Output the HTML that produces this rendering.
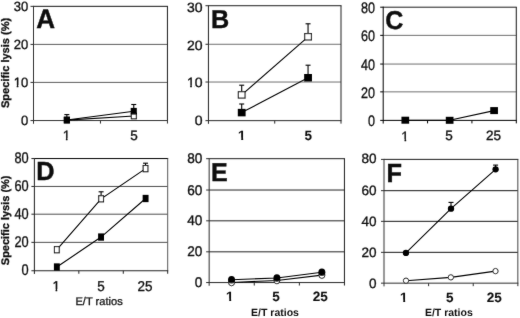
<!DOCTYPE html>
<html><head><meta charset="utf-8"><title>Specific lysis vs E/T ratios</title><style>
html,body{margin:0;padding:0;background:#fff;}
body{width:520px;height:318px;overflow:hidden;}
svg{display:block;font-family:"Liberation Sans", sans-serif;fill:#111;text-rendering:geometricPrecision;}
</style></head><body>
<svg width="520" height="318" viewBox="0 0 520 318" xmlns="http://www.w3.org/2000/svg">
<defs><clipPath id="k0" clipPathUnits="userSpaceOnUse"><rect x="-17.469" y="-39.000" width="32.000" height="37.029"/><rect x="-11.400" y="-39.000" width="1.549" height="52.000"/><rect x="-7.239" y="-39.000" width="19.000" height="52.000"/></clipPath><clipPath id="k1" clipPathUnits="userSpaceOnUse"><rect x="-6.758" y="-40.500" width="33.000" height="38.491"/><rect x="-0.563" y="-40.500" width="1.593" height="54.000"/></clipPath><clipPath id="k2" clipPathUnits="userSpaceOnUse"><rect x="-18.578" y="-42.000" width="34.000" height="39.954"/><rect x="-12.258" y="-42.000" width="1.637" height="56.000"/><rect x="-7.792" y="-42.000" width="20.000" height="56.000"/></clipPath><clipPath id="k3" clipPathUnits="userSpaceOnUse"><rect x="-6.758" y="-40.500" width="33.000" height="38.122"/><rect x="-0.657" y="-40.500" width="1.952" height="54.000"/></clipPath><clipPath id="k4" clipPathUnits="userSpaceOnUse"><rect x="-6.758" y="-40.500" width="33.000" height="38.491"/><rect x="-0.563" y="-40.500" width="1.593" height="54.000"/></clipPath><clipPath id="k5" clipPathUnits="userSpaceOnUse"><rect x="-6.758" y="-40.500" width="33.000" height="38.491"/><rect x="-0.563" y="-40.500" width="1.593" height="54.000"/></clipPath><clipPath id="k6" clipPathUnits="userSpaceOnUse"><rect x="-6.758" y="-40.500" width="33.000" height="38.122"/><rect x="-0.657" y="-40.500" width="1.952" height="54.000"/></clipPath><clipPath id="k7" clipPathUnits="userSpaceOnUse"><rect x="-6.758" y="-40.500" width="33.000" height="38.122"/><rect x="-0.657" y="-40.500" width="1.952" height="54.000"/></clipPath><filter id="bl" x="0" y="0" width="520" height="318" filterUnits="userSpaceOnUse"><feConvolveMatrix order="3" kernelMatrix="0.0125 0.05 0.0125 0.05 0.75 0.05 0.0125 0.05 0.0125" edgeMode="none"/></filter></defs>
<rect width="520" height="318" fill="#fff"/>
<g filter="url(#bl)">
<line x1="33.50" y1="44.40" x2="167.45" y2="44.40" stroke="#5f5f5f" stroke-width="1.0"/>
<line x1="33.50" y1="82.40" x2="167.45" y2="82.40" stroke="#5f5f5f" stroke-width="1.0"/>
<line x1="33.50" y1="6.35" x2="167.95" y2="6.35" stroke="#161616" stroke-width="1.0"/>
<line x1="167.45" y1="6.35" x2="167.45" y2="120.55" stroke="#1c1c1c" stroke-width="1.0"/>
<line x1="33.50" y1="5.85" x2="33.50" y2="123.75" stroke="#303030" stroke-width="1.0"/>
<line x1="30.50" y1="120.55" x2="167.95" y2="120.55" stroke="#303030" stroke-width="1.0"/>
<line x1="30.50" y1="6.35" x2="33.50" y2="6.35" stroke="#303030" stroke-width="1.0"/>
<line x1="30.50" y1="44.40" x2="33.50" y2="44.40" stroke="#303030" stroke-width="1.0"/>
<line x1="30.50" y1="82.40" x2="33.50" y2="82.40" stroke="#303030" stroke-width="1.0"/>
<line x1="100.47" y1="120.55" x2="100.47" y2="123.55" stroke="#303030" stroke-width="1.0"/>
<line x1="167.45" y1="120.55" x2="167.45" y2="123.55" stroke="#303030" stroke-width="1.0"/>
<text transform="translate(28.17,125.00) scale(1,1.03)" text-anchor="end" font-size="13.0" stroke="#111" stroke-width="0.34">0</text>
<text transform="translate(28.17,87.00) scale(1,1.03)" text-anchor="end" font-size="13.0" clip-path="url(#k0)" id="tk0" stroke="#111" stroke-width="0.34">10</text>
<text transform="translate(28.17,49.00) scale(1,1.03)" text-anchor="end" font-size="13.0" stroke="#111" stroke-width="0.34">20</text>
<text transform="translate(28.17,11.00) scale(1,1.03)" text-anchor="end" font-size="13.0" stroke="#111" stroke-width="0.34">30</text>
<text transform="translate(66.47,140.00)" text-anchor="middle" font-size="13.5" clip-path="url(#k1)" id="tk1" stroke="#111" stroke-width="0.35">1</text>
<text x="134.07" y="140.00" text-anchor="middle" font-size="13.5" stroke="#111" stroke-width="0.35">5</text>
<text transform="translate(36.19,28.00) scale(1,1.03)" text-anchor="start" font-size="26.0" font-weight="bold" stroke="#111" stroke-width="0.45">A</text>
<polyline points="66.85,120.10 133.85,116.00" fill="none" stroke="#000" stroke-width="1.1"/>
<rect x="64.35" y="117.30" width="5.00" height="5.60" fill="#fff" stroke="#111" stroke-width="1.1"/>
<rect x="131.35" y="113.20" width="5.00" height="5.60" fill="#fff" stroke="#111" stroke-width="1.1"/>
<polyline points="66.85,120.00 133.75,111.25" fill="none" stroke="#000" stroke-width="1.1"/>
<line x1="66.85" y1="120.00" x2="66.85" y2="114.60" stroke="#000" stroke-width="1.1"/>
<line x1="64.35" y1="114.60" x2="69.35" y2="114.60" stroke="#000" stroke-width="1.1"/>
<line x1="133.75" y1="111.25" x2="133.75" y2="104.50" stroke="#000" stroke-width="1.1"/>
<line x1="131.25" y1="104.50" x2="136.25" y2="104.50" stroke="#000" stroke-width="1.1"/>
<rect x="63.80" y="116.65" width="6.10" height="6.70" fill="#000"/>
<rect x="130.70" y="107.90" width="6.10" height="6.70" fill="#000"/>
<line x1="208.45" y1="44.28" x2="341.00" y2="44.28" stroke="#707070" stroke-width="1.0"/>
<line x1="208.45" y1="82.03" x2="341.00" y2="82.03" stroke="#707070" stroke-width="1.0"/>
<line x1="208.45" y1="5.72" x2="341.50" y2="5.72" stroke="#1c1c1c" stroke-width="1.0"/>
<line x1="341.00" y1="5.72" x2="341.00" y2="120.65" stroke="#232323" stroke-width="1.0"/>
<line x1="208.45" y1="5.22" x2="208.45" y2="123.85" stroke="#2a2a2a" stroke-width="1.0"/>
<line x1="205.45" y1="120.65" x2="341.50" y2="120.65" stroke="#2a2a2a" stroke-width="1.0"/>
<line x1="205.45" y1="5.72" x2="208.45" y2="5.72" stroke="#2a2a2a" stroke-width="1.0"/>
<line x1="205.45" y1="44.28" x2="208.45" y2="44.28" stroke="#2a2a2a" stroke-width="1.0"/>
<line x1="205.45" y1="82.03" x2="208.45" y2="82.03" stroke="#2a2a2a" stroke-width="1.0"/>
<line x1="274.73" y1="120.65" x2="274.73" y2="123.65" stroke="#2a2a2a" stroke-width="1.0"/>
<line x1="341.00" y1="120.65" x2="341.00" y2="123.65" stroke="#2a2a2a" stroke-width="1.0"/>
<text transform="translate(202.46,125.00) scale(1,0.96)" text-anchor="end" font-size="14.0" stroke="#111" stroke-width="0.36">0</text>
<text transform="translate(202.46,87.00) scale(1,0.96)" text-anchor="end" font-size="14.0" clip-path="url(#k2)" id="tk2" stroke="#111" stroke-width="0.36">10</text>
<text transform="translate(202.46,50.00) scale(1,0.96)" text-anchor="end" font-size="14.0" stroke="#111" stroke-width="0.36">20</text>
<text transform="translate(202.46,12.00) scale(1,0.96)" text-anchor="end" font-size="14.0" stroke="#111" stroke-width="0.36">30</text>
<text transform="translate(241.87,140.00)" text-anchor="middle" font-size="13.5" font-weight="bold" clip-path="url(#k3)" id="tk3" stroke="#111" stroke-width="0.10">1</text>
<text x="308.22" y="140.00" text-anchor="middle" font-size="13.5" font-weight="bold" stroke="#111" stroke-width="0.10">5</text>
<text transform="translate(210.89,28.00) scale(1,1.03)" text-anchor="start" font-size="25.2" font-weight="bold" stroke="#111" stroke-width="0.45">B</text>
<polyline points="241.70,94.90 308.05,36.80" fill="none" stroke="#000" stroke-width="1.1"/>
<line x1="241.70" y1="94.90" x2="241.70" y2="85.20" stroke="#000" stroke-width="1.1"/>
<line x1="239.20" y1="85.20" x2="244.20" y2="85.20" stroke="#000" stroke-width="1.1"/>
<line x1="308.05" y1="36.80" x2="308.05" y2="23.80" stroke="#000" stroke-width="1.1"/>
<line x1="305.55" y1="23.80" x2="310.55" y2="23.80" stroke="#000" stroke-width="1.1"/>
<rect x="238.35" y="91.70" width="6.70" height="6.40" fill="#fff" stroke="#111" stroke-width="1.1"/>
<rect x="304.70" y="33.60" width="6.70" height="6.40" fill="#fff" stroke="#111" stroke-width="1.1"/>
<polyline points="241.70,112.60 308.05,77.75" fill="none" stroke="#000" stroke-width="1.1"/>
<line x1="241.70" y1="112.60" x2="241.70" y2="104.00" stroke="#000" stroke-width="1.1"/>
<line x1="239.20" y1="104.00" x2="244.20" y2="104.00" stroke="#000" stroke-width="1.1"/>
<line x1="308.05" y1="77.75" x2="308.05" y2="65.20" stroke="#000" stroke-width="1.1"/>
<line x1="305.55" y1="65.20" x2="310.55" y2="65.20" stroke="#000" stroke-width="1.1"/>
<rect x="237.80" y="108.85" width="7.80" height="7.50" fill="#000"/>
<rect x="304.15" y="74.00" width="7.80" height="7.50" fill="#000"/>
<line x1="383.20" y1="35.35" x2="516.30" y2="35.35" stroke="#707070" stroke-width="1.0"/>
<line x1="383.20" y1="64.05" x2="516.30" y2="64.05" stroke="#707070" stroke-width="1.0"/>
<line x1="383.20" y1="91.87" x2="516.30" y2="91.87" stroke="#707070" stroke-width="1.0"/>
<line x1="383.20" y1="7.20" x2="516.80" y2="7.20" stroke="#1c1c1c" stroke-width="1.0"/>
<line x1="516.30" y1="7.20" x2="516.30" y2="120.38" stroke="#1c1c1c" stroke-width="1.0"/>
<line x1="383.20" y1="6.70" x2="383.20" y2="123.58" stroke="#000000" stroke-width="1.0"/>
<line x1="380.20" y1="120.38" x2="516.80" y2="120.38" stroke="#000000" stroke-width="1.0"/>
<line x1="380.20" y1="7.20" x2="383.20" y2="7.20" stroke="#000000" stroke-width="1.0"/>
<line x1="380.20" y1="35.35" x2="383.20" y2="35.35" stroke="#000000" stroke-width="1.0"/>
<line x1="380.20" y1="64.05" x2="383.20" y2="64.05" stroke="#000000" stroke-width="1.0"/>
<line x1="380.20" y1="91.87" x2="383.20" y2="91.87" stroke="#000000" stroke-width="1.0"/>
<line x1="427.57" y1="120.38" x2="427.57" y2="123.38" stroke="#000000" stroke-width="1.0"/>
<line x1="471.93" y1="120.38" x2="471.93" y2="123.38" stroke="#000000" stroke-width="1.0"/>
<line x1="516.30" y1="120.38" x2="516.30" y2="123.38" stroke="#000000" stroke-width="1.0"/>
<text transform="translate(374.95,126.00) scale(1,1.21)" text-anchor="end" font-size="12.6" stroke="#111" stroke-width="0.29">0</text>
<text transform="translate(374.95,98.00) scale(1,1.21)" text-anchor="end" font-size="12.6" stroke="#111" stroke-width="0.29">20</text>
<text transform="translate(374.95,70.00) scale(1,1.21)" text-anchor="end" font-size="12.6" stroke="#111" stroke-width="0.29">40</text>
<text transform="translate(374.95,41.00) scale(1,1.21)" text-anchor="end" font-size="12.6" stroke="#111" stroke-width="0.29">60</text>
<text transform="translate(374.95,13.00) scale(1,1.21)" text-anchor="end" font-size="12.6" stroke="#111" stroke-width="0.29">80</text>
<text transform="translate(405.12,141.00)" text-anchor="middle" font-size="13.5" clip-path="url(#k4)" id="tk4" stroke="#111" stroke-width="0.35">1</text>
<text x="449.02" y="140.00" text-anchor="middle" font-size="13.5" stroke="#111" stroke-width="0.35">5</text>
<text x="493.40" y="140.00" text-anchor="middle" font-size="13.5" stroke="#111" stroke-width="0.35">25</text>
<text transform="translate(385.26,29.00) scale(1,1.03)" text-anchor="start" font-size="25.0" font-weight="bold" stroke="#111" stroke-width="0.45">C</text>
<polyline points="405.30,120.20 449.65,120.30 494.10,110.60" fill="none" stroke="#000" stroke-width="1.1"/>
<rect x="401.45" y="116.70" width="7.70" height="7.00" fill="#000"/>
<rect x="445.80" y="116.80" width="7.70" height="7.00" fill="#000"/>
<rect x="490.25" y="107.10" width="7.70" height="7.00" fill="#000"/>
<line x1="34.40" y1="186.45" x2="167.70" y2="186.45" stroke="#4e4e4e" stroke-width="1.0"/>
<line x1="34.40" y1="214.19" x2="167.70" y2="214.19" stroke="#4e4e4e" stroke-width="1.0"/>
<line x1="34.40" y1="242.35" x2="167.70" y2="242.35" stroke="#4e4e4e" stroke-width="1.0"/>
<line x1="34.40" y1="158.56" x2="168.20" y2="158.56" stroke="#000000" stroke-width="1.0"/>
<line x1="167.70" y1="158.56" x2="167.70" y2="270.75" stroke="#585858" stroke-width="1.0"/>
<line x1="34.40" y1="158.06" x2="34.40" y2="273.95" stroke="#232323" stroke-width="1.0"/>
<line x1="31.40" y1="270.75" x2="168.20" y2="270.75" stroke="#232323" stroke-width="1.0"/>
<line x1="31.40" y1="158.56" x2="34.40" y2="158.56" stroke="#232323" stroke-width="1.0"/>
<line x1="31.40" y1="186.45" x2="34.40" y2="186.45" stroke="#232323" stroke-width="1.0"/>
<line x1="31.40" y1="214.19" x2="34.40" y2="214.19" stroke="#232323" stroke-width="1.0"/>
<line x1="31.40" y1="242.35" x2="34.40" y2="242.35" stroke="#232323" stroke-width="1.0"/>
<line x1="78.83" y1="270.75" x2="78.83" y2="273.75" stroke="#232323" stroke-width="1.0"/>
<line x1="123.27" y1="270.75" x2="123.27" y2="273.75" stroke="#232323" stroke-width="1.0"/>
<line x1="167.70" y1="270.75" x2="167.70" y2="273.75" stroke="#232323" stroke-width="1.0"/>
<text transform="translate(28.71,275.00) scale(1,1.21)" text-anchor="end" font-size="12.8" stroke="#111" stroke-width="0.29">0</text>
<text transform="translate(28.71,247.00) scale(1,1.21)" text-anchor="end" font-size="12.8" stroke="#111" stroke-width="0.29">20</text>
<text transform="translate(28.71,219.00) scale(1,1.21)" text-anchor="end" font-size="12.8" stroke="#111" stroke-width="0.29">40</text>
<text transform="translate(28.71,191.00) scale(1,1.21)" text-anchor="end" font-size="12.8" stroke="#111" stroke-width="0.29">60</text>
<text transform="translate(28.71,163.00) scale(1,1.21)" text-anchor="end" font-size="12.8" stroke="#111" stroke-width="0.29">80</text>
<text transform="translate(56.17,291.00) scale(1,1.05)" text-anchor="middle" font-size="13.5" clip-path="url(#k5)" id="tk5" stroke="#111" stroke-width="0.33">1</text>
<text transform="translate(101.07,291.00) scale(1,1.05)" text-anchor="middle" font-size="13.5" stroke="#111" stroke-width="0.33">5</text>
<text transform="translate(145.10,291.00) scale(1,1.05)" text-anchor="middle" font-size="13.5" stroke="#111" stroke-width="0.33">25</text>
<text transform="translate(36.21,180.00) scale(1,1.03)" text-anchor="start" font-size="25.3" font-weight="bold" stroke="#111" stroke-width="0.45">D</text>
<polyline points="56.85,249.70 101.10,198.80 145.55,168.60" fill="none" stroke="#000" stroke-width="1.1"/>
<line x1="101.10" y1="198.80" x2="101.10" y2="191.80" stroke="#000" stroke-width="1.1"/>
<line x1="98.60" y1="191.80" x2="103.60" y2="191.80" stroke="#000" stroke-width="1.1"/>
<line x1="145.55" y1="168.60" x2="145.55" y2="163.20" stroke="#000" stroke-width="1.1"/>
<line x1="143.05" y1="163.20" x2="148.05" y2="163.20" stroke="#000" stroke-width="1.1"/>
<rect x="54.45" y="246.60" width="4.80" height="6.20" fill="#fff" stroke="#111" stroke-width="1.1"/>
<rect x="98.70" y="195.70" width="4.80" height="6.20" fill="#fff" stroke="#111" stroke-width="1.1"/>
<rect x="143.15" y="165.50" width="4.80" height="6.20" fill="#fff" stroke="#111" stroke-width="1.1"/>
<polyline points="56.85,267.00 101.05,237.05 145.60,198.50" fill="none" stroke="#000" stroke-width="1.1"/>
<rect x="53.90" y="263.35" width="5.90" height="7.30" fill="#000"/>
<rect x="98.10" y="233.40" width="5.90" height="7.30" fill="#000"/>
<rect x="142.65" y="194.85" width="5.90" height="7.30" fill="#000"/>
<line x1="209.17" y1="190.03" x2="344.45" y2="190.03" stroke="#232323" stroke-width="1.0"/>
<line x1="209.17" y1="220.82" x2="344.45" y2="220.82" stroke="#232323" stroke-width="1.0"/>
<line x1="209.17" y1="251.82" x2="344.45" y2="251.82" stroke="#232323" stroke-width="1.0"/>
<line x1="209.17" y1="158.70" x2="344.95" y2="158.70" stroke="#1c1c1c" stroke-width="1.0"/>
<line x1="344.45" y1="158.70" x2="344.45" y2="282.55" stroke="#1c1c1c" stroke-width="1.0"/>
<line x1="209.17" y1="158.20" x2="209.17" y2="285.75" stroke="#2a2a2a" stroke-width="1.0"/>
<line x1="206.17" y1="282.55" x2="344.95" y2="282.55" stroke="#2a2a2a" stroke-width="1.0"/>
<line x1="206.17" y1="158.70" x2="209.17" y2="158.70" stroke="#2a2a2a" stroke-width="1.0"/>
<line x1="206.17" y1="190.03" x2="209.17" y2="190.03" stroke="#2a2a2a" stroke-width="1.0"/>
<line x1="206.17" y1="220.82" x2="209.17" y2="220.82" stroke="#2a2a2a" stroke-width="1.0"/>
<line x1="206.17" y1="251.82" x2="209.17" y2="251.82" stroke="#2a2a2a" stroke-width="1.0"/>
<line x1="254.26" y1="282.55" x2="254.26" y2="285.55" stroke="#2a2a2a" stroke-width="1.0"/>
<line x1="299.36" y1="282.55" x2="299.36" y2="285.55" stroke="#2a2a2a" stroke-width="1.0"/>
<line x1="344.45" y1="282.55" x2="344.45" y2="285.55" stroke="#2a2a2a" stroke-width="1.0"/>
<text transform="translate(202.34,287.00) scale(1,1.03)" text-anchor="end" font-size="13.6" stroke="#111" stroke-width="0.34">0</text>
<text transform="translate(202.34,256.00) scale(1,1.03)" text-anchor="end" font-size="13.6" stroke="#111" stroke-width="0.34">20</text>
<text transform="translate(202.34,225.00) scale(1,1.03)" text-anchor="end" font-size="13.6" stroke="#111" stroke-width="0.34">40</text>
<text transform="translate(202.34,195.00) scale(1,1.03)" text-anchor="end" font-size="13.6" stroke="#111" stroke-width="0.34">60</text>
<text transform="translate(202.34,163.00) scale(1,1.03)" text-anchor="end" font-size="13.6" stroke="#111" stroke-width="0.34">80</text>
<text transform="translate(229.87,301.00)" text-anchor="middle" font-size="13.5" font-weight="bold" clip-path="url(#k6)" id="tk6" stroke="#111" stroke-width="0.10">1</text>
<text x="276.07" y="301.00" text-anchor="middle" font-size="13.5" font-weight="bold" stroke="#111" stroke-width="0.10">5</text>
<text x="320.20" y="301.00" text-anchor="middle" font-size="13.5" font-weight="bold" stroke="#111" stroke-width="0.10">25</text>
<text transform="translate(210.88,181.00) scale(1,1.03)" text-anchor="start" font-size="25.0" font-weight="bold" stroke="#111" stroke-width="0.45">E</text>
<polyline points="231.55,282.50 276.90,280.50 321.90,275.10" fill="none" stroke="#000" stroke-width="1.1"/>
<ellipse cx="231.55" cy="282.50" rx="3.00" ry="3.30" fill="#fff" stroke="#111" stroke-width="1"/>
<ellipse cx="276.90" cy="280.50" rx="3.00" ry="3.30" fill="#fff" stroke="#111" stroke-width="1"/>
<ellipse cx="321.90" cy="275.10" rx="3.00" ry="3.30" fill="#fff" stroke="#111" stroke-width="1"/>
<polyline points="231.55,279.70 276.90,278.00 321.85,272.25" fill="none" stroke="#000" stroke-width="1.1"/>
<ellipse cx="231.55" cy="279.70" rx="3.50" ry="3.80" fill="#000"/>
<ellipse cx="276.90" cy="278.00" rx="3.50" ry="3.80" fill="#000"/>
<ellipse cx="321.85" cy="272.25" rx="3.50" ry="3.80" fill="#000"/>
<line x1="384.00" y1="190.66" x2="517.85" y2="190.66" stroke="#161616" stroke-width="1.0"/>
<line x1="384.00" y1="221.35" x2="517.85" y2="221.35" stroke="#161616" stroke-width="1.0"/>
<line x1="384.00" y1="252.35" x2="517.85" y2="252.35" stroke="#161616" stroke-width="1.0"/>
<line x1="384.00" y1="159.40" x2="518.35" y2="159.40" stroke="#1c1c1c" stroke-width="1.0"/>
<line x1="517.85" y1="159.40" x2="517.85" y2="283.17" stroke="#444444" stroke-width="1.0"/>
<line x1="384.00" y1="158.90" x2="384.00" y2="286.37" stroke="#303030" stroke-width="1.0"/>
<line x1="381.00" y1="283.17" x2="518.35" y2="283.17" stroke="#303030" stroke-width="1.0"/>
<line x1="381.00" y1="159.40" x2="384.00" y2="159.40" stroke="#303030" stroke-width="1.0"/>
<line x1="381.00" y1="190.66" x2="384.00" y2="190.66" stroke="#303030" stroke-width="1.0"/>
<line x1="381.00" y1="221.35" x2="384.00" y2="221.35" stroke="#303030" stroke-width="1.0"/>
<line x1="381.00" y1="252.35" x2="384.00" y2="252.35" stroke="#303030" stroke-width="1.0"/>
<line x1="428.62" y1="283.17" x2="428.62" y2="286.17" stroke="#303030" stroke-width="1.0"/>
<line x1="473.23" y1="283.17" x2="473.23" y2="286.17" stroke="#303030" stroke-width="1.0"/>
<line x1="517.85" y1="283.17" x2="517.85" y2="286.17" stroke="#303030" stroke-width="1.0"/>
<text x="376.44" y="288.00" text-anchor="end" font-size="13.5" stroke="#111" stroke-width="0.35">0</text>
<text x="376.44" y="257.00" text-anchor="end" font-size="13.5" stroke="#111" stroke-width="0.35">20</text>
<text x="376.44" y="226.00" text-anchor="end" font-size="13.5" stroke="#111" stroke-width="0.35">40</text>
<text x="376.44" y="195.00" text-anchor="end" font-size="13.5" stroke="#111" stroke-width="0.35">60</text>
<text x="376.44" y="163.00" text-anchor="end" font-size="13.5" stroke="#111" stroke-width="0.35">80</text>
<text transform="translate(403.87,302.00)" text-anchor="middle" font-size="13.5" font-weight="bold" clip-path="url(#k7)" id="tk7" stroke="#111" stroke-width="0.10">1</text>
<text x="449.72" y="302.00" text-anchor="middle" font-size="13.5" font-weight="bold" stroke="#111" stroke-width="0.10">5</text>
<text x="494.25" y="302.00" text-anchor="middle" font-size="13.5" font-weight="bold" stroke="#111" stroke-width="0.10">25</text>
<text transform="translate(386.45,182.00) scale(1,1.03)" text-anchor="start" font-size="25.3" font-weight="bold" stroke="#111" stroke-width="0.45">F</text>
<polyline points="406.00,280.70 450.85,277.35 495.50,271.10" fill="none" stroke="#000" stroke-width="1.1"/>
<ellipse cx="406.00" cy="280.70" rx="2.65" ry="2.65" fill="#fff" stroke="#111" stroke-width="1"/>
<ellipse cx="450.85" cy="277.35" rx="2.65" ry="2.65" fill="#fff" stroke="#111" stroke-width="1"/>
<ellipse cx="495.50" cy="271.10" rx="2.65" ry="2.65" fill="#fff" stroke="#111" stroke-width="1"/>
<polyline points="405.95,252.95 451.00,208.65 495.60,169.30" fill="none" stroke="#000" stroke-width="1.1"/>
<line x1="451.00" y1="208.65" x2="451.00" y2="202.40" stroke="#000" stroke-width="1.1"/>
<line x1="448.50" y1="202.40" x2="453.50" y2="202.40" stroke="#000" stroke-width="1.1"/>
<line x1="495.60" y1="169.30" x2="495.60" y2="165.10" stroke="#000" stroke-width="1.1"/>
<line x1="493.10" y1="165.10" x2="498.10" y2="165.10" stroke="#000" stroke-width="1.1"/>
<ellipse cx="405.95" cy="252.95" rx="3.15" ry="3.15" fill="#000"/>
<ellipse cx="451.00" cy="208.65" rx="3.15" ry="3.15" fill="#000"/>
<ellipse cx="495.60" cy="169.30" rx="3.15" ry="3.15" fill="#000"/>
<text transform="translate(9.20,62.90) rotate(-90)" text-anchor="middle" font-size="11" font-weight="bold" stroke="#111" stroke-width="0.3" textLength="90.2" lengthAdjust="spacingAndGlyphs">Specific lysis (%)</text>
<text transform="translate(9.20,220.35) rotate(-90)" text-anchor="middle" font-size="11" font-weight="bold" stroke="#111" stroke-width="0.3" textLength="89.7" lengthAdjust="spacingAndGlyphs">Specific lysis (%)</text>
<text x="99.05" y="305" text-anchor="middle" font-size="11.1" stroke="#111" stroke-width="0.3">E/T ratios</text>
<text x="275.00" y="316" text-anchor="middle" font-size="10.5" font-weight="bold">E/T ratios</text>
<text x="448.85" y="316" text-anchor="middle" font-size="10.5" font-weight="bold">E/T ratios</text>
</g>
</svg>
</body></html>
